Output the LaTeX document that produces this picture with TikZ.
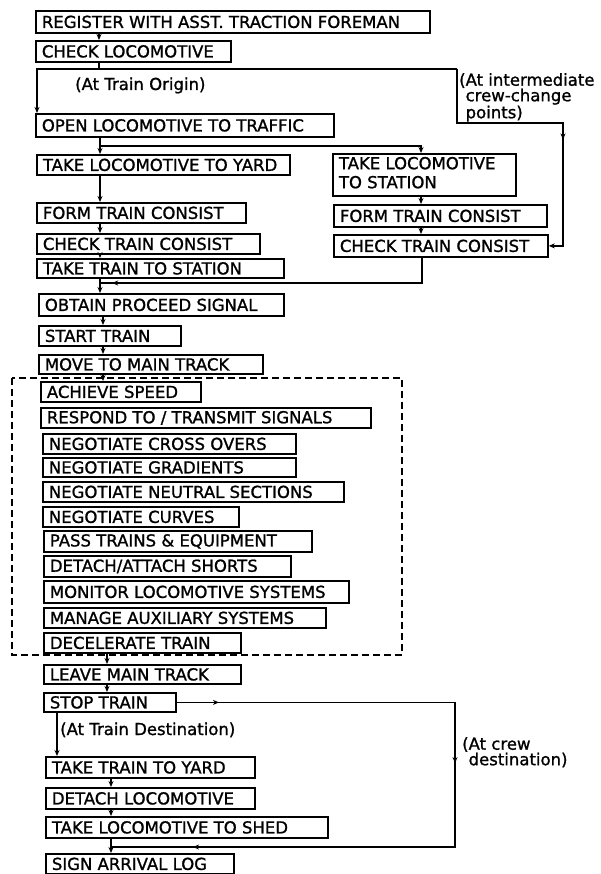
\documentclass[tikz,border=0pt]{standalone}
\usepackage{fontspec}
\setmainfont{DejaVu Sans}
\newfontfamily\boxfont{DejaVu Sans}[FakeBold=1.2]
\usetikzlibrary{arrows.meta,decorations.markings}
\tikzset{
  bx/.style={draw, line width=1.8pt, anchor=north west, inner xsep=6pt, inner ysep=0pt,
             font=\boxfont\fontsize{16.5}{19}\selectfont},
  conn/.style={line width=1.6pt},
  arr/.style={conn, -{Stealth[length=6pt,width=5pt]}},
  lbl/.style={inner sep=0pt, align=left, font=\boxfont\fontsize{16.5}{15.5}\selectfont},
  frame/.style={line width=1.8pt, dash pattern=on 7pt off 4pt},
  midarr/.style={postaction={decorate},
    decoration={markings, mark=at position #1 with {\arrow[line width=1.2pt]{Stealth[length=6pt,width=5pt]}}}},
}
\newcommand\bxat[6]{\node[bx, minimum height={#5pt-#3pt}] (#1) at (#2,#3)
  {\makebox[\dimexpr#4pt-#2pt-12pt\relax][l]{#6}};}
\begin{document}
\begin{tikzpicture}[x=1pt,y=-1pt]
\useasboundingbox (0,0) rectangle (600,874);
% group frame
\draw[frame] (12,378) rectangle (402,655);
% boxes
\bxat{reg}{35}{10}{429}{32}{REGISTER WITH ASST. TRACTION FOREMAN}
\bxat{chk}{35}{40}{230}{61}{CHECK LOCOMOTIVE}
\bxat{open}{35}{113}{333}{136}{OPEN LOCOMOTIVE TO TRAFFIC}
\bxat{yard}{36}{154}{289}{174}{TAKE LOCOMOTIVE TO YARD}
\bxat{tls}{332}{153}{515}{195}{\begin{tabular}{@{}l@{}}TAKE LOCOMOTIVE\\TO STATION\end{tabular}}
\bxat{form}{36}{202}{245}{222}{FORM TRAIN CONSIST}
\bxat{formr}{333}{204}{546}{226}{FORM TRAIN CONSIST}
\bxat{chkc}{36}{233}{259}{253}{CHECK TRAIN CONSIST}
\bxat{chkr}{333}{234}{547}{256}{CHECK TRAIN CONSIST}
\bxat{tts}{36}{258}{283}{277}{TAKE TRAIN TO STATION}
\bxat{obt}{38}{293}{283}{315}{OBTAIN PROCEED SIGNAL}
\bxat{start}{38}{325}{180}{345}{START TRAIN}
\bxat{move}{38}{354}{262}{373}{MOVE TO MAIN TRACK}
\bxat{ach}{40}{381}{200}{401}{ACHIEVE SPEED}
\bxat{resp}{40}{407}{370}{427}{RESPOND TO / TRANSMIT SIGNALS}
\bxat{cross}{42}{433}{295}{453}{NEGOTIATE CROSS OVERS}
\bxat{grad}{42}{457}{295}{476}{NEGOTIATE GRADIENTS}
\bxat{neut}{42}{481}{343}{501}{NEGOTIATE NEUTRAL SECTIONS}
\bxat{curv}{42}{506}{238}{526}{NEGOTIATE CURVES}
\bxat{pass}{43}{530}{311}{551}{PASS TRAINS \& EQUIPMENT}
\bxat{dat}{43}{555}{290}{576}{DETACH/ATTACH SHORTS}
\bxat{mon}{43}{580}{348}{602}{MONITOR LOCOMOTIVE SYSTEMS}
\bxat{man}{43}{607}{325}{627}{MANAGE AUXILIARY SYSTEMS}
\bxat{dec}{43}{632}{240}{652}{DECELERATE TRAIN}
\bxat{leave}{43}{664}{240}{683}{LEAVE MAIN TRACK}
\bxat{stop}{43}{692}{175}{711}{STOP TRAIN}
\bxat{tty}{45}{756}{254}{777}{TAKE TRAIN TO YARD}
\bxat{detl}{45}{787}{254}{808}{DETACH LOCOMOTIVE}
\bxat{shed}{45}{816}{327}{837}{TAKE LOCOMOTIVE TO SHED}
\bxat{sign}{45}{853}{233}{873}{SIGN ARRIVAL LOG}
% labels
\node[lbl, anchor=base west] (lorig) at (75,90) {(At Train Origin)};
\node[lbl, anchor=north west] (lint) at (459,73) {(At intermediate\\\phantom{(}crew-change\\\phantom{(}points)};
\node[lbl, anchor=base west] (ldest) at (60,735) {(At Train Destination)};
\node[lbl, anchor=north west] (lcrew) at (462,737) {(At crew\\\phantom{(}destination)};
% coordinates
\coordinate (j1) at (99,69);
\coordinate (tl) at (37,69);
\coordinate (tr) at (457,69);
\coordinate (tr2) at (457,123);
\coordinate (tr3) at (563,123);
\coordinate (j2) at (100,146);
\coordinate (cr) at (421,0);
\coordinate (j3r) at (422,283);
\coordinate (j3) at (100,283);
\coordinate (c103) at (103,0);
\coordinate (c107) at (107,0);
\coordinate (c57) at (57,0);
\coordinate (cdr) at (455,847);
\coordinate (j4) at (111,847);
% connectors
\draw[arr] (reg.south -| j1) -- (chk.north -| j1);
\draw[conn] (chk.south -| j1) -- (j1);
\draw[arr] (tr) -- (tl) -- (open.north -| tl);
\draw[arr, midarr=0.594] (tr) -- (tr2) -- (tr3) -- (tr3 |- chkr.east) -- (chkr.east);
\draw[arr] (open.south -| j2) -- (yard.north -| j2);
\draw[arr] (j2) -- (j2 -| cr) -- (tls.north -| cr);
\draw[arr] (yard.south -| j2) -- (form.north -| j2);
\draw[arr] (form.south -| j2) -- (chkc.north -| j2);
\draw[arr] (chkc.south -| j2) -- (tts.north -| j2);
\draw[arr] (tts.south -| j2) -- (obt.north -| j2);
\draw[arr] (tls.south -| cr) -- (formr.north -| cr);
\draw[arr] (formr.south -| cr) -- (chkr.north -| cr);
\draw[conn, midarr=0.965] (chkr.south -| j3r) -- (j3r) -- (j3);
\draw[arr] (obt.south -| c103) -- (start.north -| c103);
\draw[arr] (start.south -| c103) -- (move.north -| c103);
\draw[arr] (move.south -| c103) -- (ach.north -| c103);
\draw[arr] (dec.south -| c107) -- (leave.north -| c107);
\draw[arr] (leave.south -| c107) -- (stop.north -| c107);
\draw[arr] (stop.south -| c57) -- (tty.north -| c57);
\draw[conn, postaction={decorate}, decoration={markings,
   mark=at position 0.055 with {\arrow[line width=1.2pt]{Stealth[length=6pt,width=5pt]}},
   mark=at position 0.442 with {\arrow[line width=1.2pt]{Stealth[length=6pt,width=5pt]}},
   mark=at position 0.893 with {\arrow[line width=1.2pt]{Stealth[length=6pt,width=5pt]}}}]
   (stop.east) -- (stop.east -| cdr) -- (cdr) -- (j4);
\draw[arr] (tty.south -| j4) -- (detl.north -| j4);
\draw[arr] (detl.south -| j4) -- (shed.north -| j4);
\draw[conn] (shed.south -| j4) -- (j4);
\draw[arr] (j4) -- (sign.north -| j4);
\end{tikzpicture}
\end{document}
